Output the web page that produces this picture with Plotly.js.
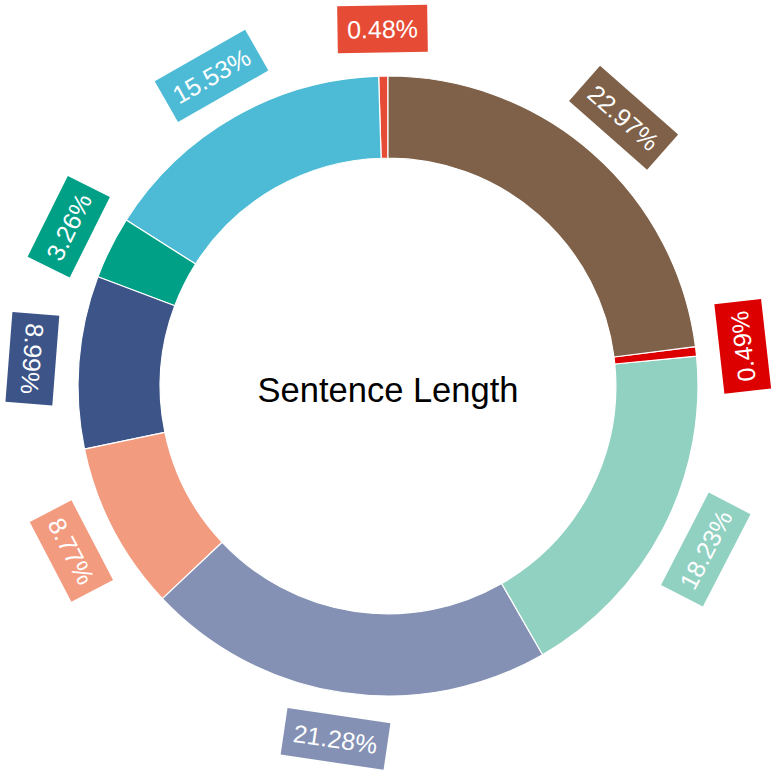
<!DOCTYPE html>
<html>
<head>
<meta charset="utf-8">
<script src="https://cdn.plot.ly/plotly-3.0.1.min.js"></script>
<style>html,body{margin:0;padding:0;background:#fff;}#chart{width:772px;height:771px;}</style>
</head>
<body>
<div id="chart"></div>
<script>
const categories = ['Group 1','Group 2','Group 3','Group 4','Group 5','Group 6','Group 7','Group 8','Group 9'];
const values = [0.48, 15.53, 3.26, 8.99, 8.77, 21.28, 18.23, 0.49, 22.97];
const colors = ['#E64B35','#4DBBD5','#00A087','#3C5488','#F39B7F','#8491B4','#91D1C2','#DC0000','#7E6148'];
const centerTitle = 'Sentence Length';

const W = 772, H = 771;
const cx = 388, cy = 386, R = 310, labelR = 357;

const total = values.reduce((a, b) => a + b, 0);
const annotations = [];
let cum = 0;
values.forEach((v, i) => {
  const ccw = (cum + v / 2) / total * 360;   // counterclockwise from top
  cum += v;
  const theta = (360 - ccw) % 360;            // clockwise from top
  const rad = theta * Math.PI / 180;
  const px = cx + labelR * Math.sin(rad);
  const py = cy - labelR * Math.cos(rad);
  let rot;
  if (theta > 75 && theta < 285) rot = theta - 180;
  else rot = theta > 180 ? theta - 360 : theta;
  annotations.push({
    xref: 'paper', yref: 'paper',
    x: px / W, y: 1 - py / H,
    xanchor: 'center', yanchor: 'middle',
    text: (v.toFixed(2)) + '%',
    textangle: rot,
    showarrow: false,
    bgcolor: colors[i],
    borderpad: 9,
    font: {family: 'Liberation Sans, Arial, sans-serif', size: 25, color: '#ffffff'}
  });
});

// Plotly places the first counterclockwise slice clockwise of the start angle; shift so it starts at 12 o'clock
const startRotation = -values[0] / total * 360;

const trace = {
  type: 'pie',
  labels: categories,
  values: values,
  sort: false,
  direction: 'counterclockwise',
  rotation: startRotation,
  hole: 0.735,
  textinfo: 'none',
  hoverinfo: 'label+percent',
  marker: {colors: colors, line: {color: '#ffffff', width: 1.2}},
  domain: {x: [(cx - R) / W, (cx + R) / W], y: [(H - cy - R) / H, (H - cy + R) / H]},
  title: {text: centerTitle, position: 'middle center', font: {family: 'Liberation Sans, Arial, sans-serif', size: 34.5, color: '#000000'}},
  showlegend: false
};

const layout = {
  width: W, height: H,
  margin: {l: 0, r: 0, t: 0, b: 0},
  paper_bgcolor: '#ffffff',
  plot_bgcolor: '#ffffff',
  showlegend: false,
  annotations: annotations
};

Plotly.newPlot('chart', [trace], layout, {displayModeBar: false, staticPlot: true});
</script>
</body>
</html>
